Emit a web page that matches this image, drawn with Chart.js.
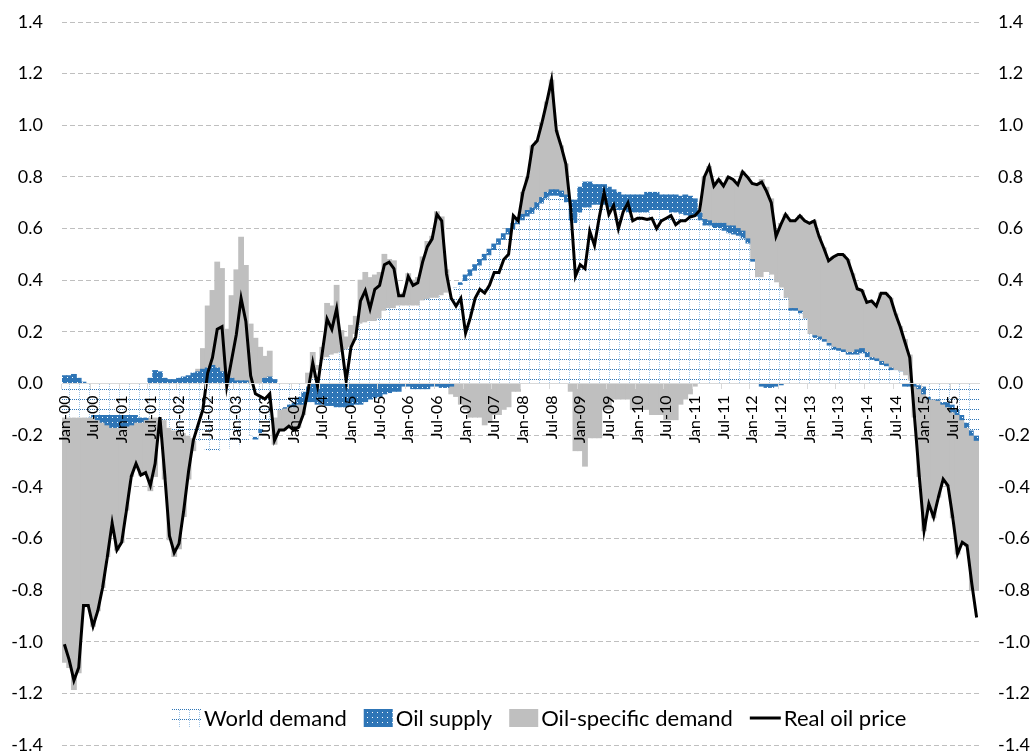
<!DOCTYPE html>
<html>
<head>
<meta charset="utf-8">
<script src="https://cdn.jsdelivr.net/npm/chart.js@4.4.1/dist/chart.umd.min.js"></script>
<style>
  body { margin: 0; background: #fff; }
  canvas { display: block; }
</style>
</head>
<body>
<canvas id="oil-chart" width="1035" height="753"></canvas>
<script>
// month labels Jan-00 .. Dec-15
const monthNames = ['Jan', 'Feb', 'Mar', 'Apr', 'May', 'Jun', 'Jul', 'Aug', 'Sep', 'Oct', 'Nov', 'Dec'];
const years = ['00', '01', '02', '03', '04', '05', '06', '07', '08', '09', '10', '11', '12', '13', '14', '15'];
const categories = [];
years.forEach(y => monthNames.forEach(m => categories.push(m + '-' + y)));

const yTicks = [-1.4, -1.2, -1.0, -0.8, -0.6, -0.4, -0.2, 0.0, 0.2, 0.4, 0.6, 0.8, 1.0, 1.2, 1.4];

const worldDemand = [
  -0.13, -0.13, -0.13, -0.13, -0.13, -0.13, -0.12, -0.12, -0.12, -0.12, -0.12, -0.12,
  -0.12, -0.12, -0.12, -0.12, -0.13, -0.13, -0.13, -0.13, -0.13, -0.14, -0.17, -0.18,
  -0.18, -0.19, -0.20, -0.21, -0.22, -0.235, -0.26, -0.26, -0.26, -0.225, -0.22, -0.25,
  -0.25, -0.235, -0.22, -0.20, -0.205, -0.175, -0.165, -0.165, -0.13, -0.10, -0.09, -0.08,
  -0.07, -0.05, -0.03, -0.01, 0.02, 0.05, 0.09, 0.10, 0.11, 0.115, 0.12, 0.13,
  0.14, 0.19, 0.23, 0.235, 0.24, 0.24, 0.25, 0.28, 0.29, 0.29, 0.30, 0.30,
  0.30, 0.30, 0.30, 0.32, 0.325, 0.33, 0.33, 0.34, 0.35, 0.36, 0.37, 0.38,
  0.395, 0.415, 0.435, 0.455, 0.475, 0.495, 0.515, 0.535, 0.555, 0.575, 0.595, 0.615,
  0.63, 0.645, 0.655, 0.675, 0.695, 0.715, 0.725, 0.725, 0.72, 0.70, 0.63, 0.62,
  0.66, 0.68, 0.68, 0.69, 0.69, 0.69, 0.68, 0.68, 0.67, 0.67, 0.66, 0.66,
  0.66, 0.66, 0.66, 0.67, 0.67, 0.67, 0.67, 0.66, 0.66, 0.655, 0.65, 0.645,
  0.645, 0.63, 0.61, 0.61, 0.60, 0.60, 0.59, 0.58, 0.575, 0.57, 0.56, 0.54,
  0.47, 0.41, 0.41, 0.43, 0.42, 0.39, 0.37, 0.33, 0.28, 0.28, 0.27, 0.25,
  0.19, 0.175, 0.17, 0.16, 0.145, 0.13, 0.125, 0.12, 0.11, 0.11, 0.11, 0.115,
  0.10, 0.09, 0.085, 0.07, 0.065, 0.05, 0.05, 0.045, 0.03, 0.01, 0.0, -0.005,
  -0.01, -0.05, -0.06, -0.06, -0.07, -0.07, -0.08, -0.10, -0.12, -0.15, -0.18, -0.20
];

const oilSupply = [
  0.03, 0.03, 0.035, 0.02, 0.005, 0, -0.01, -0.02, -0.03, -0.04, -0.05, -0.05,
  -0.05, -0.045, -0.04, -0.03, -0.02, -0.01, 0.02, 0.05, 0.045, 0.02, 0.015, 0.015,
  0.02, 0.025, 0.03, 0.04, 0.045, 0.055, 0.06, 0.07, 0.06, 0.045, 0.03, 0.02,
  0.01, 0.01, 0.01, 0, -0.01, -0.015, 0.02, 0.025, 0.015, 0, -0.005, -0.01,
  -0.02, -0.03, -0.05, -0.06, -0.07, -0.08, -0.08, -0.085, -0.085, -0.09, -0.09, -0.09,
  -0.085, -0.08, -0.08, -0.07, -0.06, -0.055, -0.05, -0.04, -0.035, -0.03, -0.03, -0.01,
  -0.01, -0.02, -0.02, -0.02, -0.02, -0.01, -0.01, -0.015, -0.015, -0.01, 0, 0.01,
  0.025, 0.025, 0.025, 0.025, 0.025, 0.025, 0.025, 0.025, 0.025, 0.025, 0.025, 0.025,
  0.025, 0.025, 0.025, 0.025, 0.025, 0.025, 0.025, 0.025, 0.025, 0.03, 0.08, 0.09,
  0.10, 0.10, 0.10, 0.08, 0.08, 0.08, 0.08, 0.07, 0.07, 0.06, 0.07, 0.07,
  0.07, 0.07, 0.08, 0.07, 0.07, 0.06, 0.06, 0.07, 0.07, 0.07, 0.08, 0.08,
  0.07, 0.03, 0.025, 0.02, 0.02, 0.02, 0.03, 0.03, 0.035, 0.03, 0.03, 0.02,
  0.01, 0, -0.01, -0.015, -0.015, -0.01, -0.005, 0, 0.01, 0.01, 0.01, 0,
  0, 0.01, 0.01, 0.01, 0.01, 0.01, 0.01, 0.01, 0.01, 0.01, 0.02, 0.02,
  0.02, 0.01, 0.01, 0.015, 0.01, 0.01, 0, 0, -0.01, -0.01, -0.01, -0.015,
  -0.03, -0.01, 0, -0.005, -0.01, -0.02, -0.03, -0.02, -0.02, -0.02, -0.02, -0.02
];

const oilSpecificDemand = [
  -0.95, -0.97, -1.055, -0.99, -0.735, -0.73, -0.81, -0.74, -0.64, -0.51, -0.37, -0.475,
  -0.445, -0.325, -0.20, -0.16, -0.205, -0.205, -0.285, -0.23, -0.045, -0.23, -0.435, -0.49,
  -0.46, -0.325, -0.17, -0.05, 0.01, 0.08, 0.24, 0.29, 0.41, 0.40, 0.18, 0.32,
  0.43, 0.556, 0.447, 0.23, 0.175, 0.14, 0.085, 0.10, -0.105, -0.08, -0.085, -0.075,
  -0.09, -0.09, -0.04, 0.04, 0.10, 0.02, 0.05, 0.21, 0.19, 0.265, 0.085, 0.05,
  0.085, 0.07, 0.17, 0.195, 0.17, 0.18, 0.18, 0.22, 0.19, 0.185, 0.04, 0.05,
  0.125, 0.10, 0.11, 0.17, 0.225, 0.24, 0.335, 0.305, 0.09, -0.03, -0.05, -0.08,
  -0.10, -0.13, -0.13, -0.13, -0.16, -0.15, -0.12, -0.12, -0.10, -0.09, -0.03, -0.03,
  0.085, 0.13, 0.24, 0.24, 0.29, 0.35, 0.425, 0.23, 0.175, 0.12, -0.03, -0.26,
  -0.26, -0.32, -0.21, -0.21, -0.21, -0.10, -0.10, -0.06, -0.06, -0.06, -0.06, -0.10,
  -0.10, -0.10, -0.10, -0.12, -0.12, -0.12, -0.14, -0.14, -0.14, -0.08, -0.06, -0.04,
  -0.01, 0.01, 0.165, 0.21, 0.145, 0.17, 0.145, 0.19, 0.18, 0.17, 0.23, 0.24,
  0.295, 0.36, 0.38, 0.33, 0.295, 0.19, 0.25, 0.325, 0.34, 0.34, 0.37, 0.38,
  0.43, 0.445, 0.39, 0.355, 0.32, 0.35, 0.365, 0.37, 0.36, 0.305, 0.237, 0.225,
  0.194, 0.22, 0.205, 0.265, 0.275, 0.27, 0.22, 0.175, 0.14, 0.10, -0.12, -0.34,
  -0.53, -0.41, -0.46, -0.375, -0.29, -0.305, -0.41, -0.54, -0.475, -0.46, -0.60, -0.58
];

const realOilPrice = [
  -1.01, -1.07, -1.15, -1.10, -0.86, -0.86, -0.94, -0.88, -0.79, -0.67, -0.54, -0.645,
  -0.615, -0.49, -0.36, -0.31, -0.355, -0.345, -0.395, -0.31, -0.13, -0.35, -0.59, -0.655,
  -0.62, -0.49, -0.34, -0.22, -0.16, -0.10, 0.04, 0.10, 0.21, 0.22, -0.01, 0.09,
  0.19, 0.33, 0.24, 0.03, -0.04, -0.05, -0.06, -0.04, -0.22, -0.18, -0.18, -0.165,
  -0.18, -0.17, -0.12, -0.03, 0.08, -0.01, 0.12, 0.25, 0.21, 0.29, 0.15, 0.01,
  0.14, 0.18, 0.32, 0.36, 0.29, 0.365, 0.38, 0.46, 0.47, 0.445, 0.34, 0.34,
  0.415, 0.38, 0.39, 0.47, 0.53, 0.56, 0.655, 0.63, 0.425, 0.33, 0.30, 0.33,
  0.195, 0.255, 0.33, 0.365, 0.35, 0.38, 0.43, 0.43, 0.48, 0.50, 0.65, 0.63,
  0.74, 0.80, 0.92, 0.94, 1.01, 1.09, 1.175, 0.98, 0.92, 0.85, 0.68, 0.415,
  0.46, 0.445, 0.59, 0.535, 0.645, 0.74, 0.655, 0.69, 0.60, 0.665, 0.70, 0.63,
  0.64, 0.64, 0.635, 0.64, 0.60, 0.63, 0.64, 0.65, 0.615, 0.63, 0.63, 0.645,
  0.65, 0.67, 0.80, 0.84, 0.765, 0.79, 0.765, 0.80, 0.79, 0.77, 0.82, 0.80,
  0.775, 0.77, 0.78, 0.745, 0.70, 0.57, 0.615, 0.655, 0.63, 0.63, 0.65, 0.63,
  0.62, 0.63, 0.57, 0.525, 0.475, 0.49, 0.50, 0.50, 0.48, 0.425, 0.367, 0.36,
  0.314, 0.32, 0.30, 0.35, 0.35, 0.33, 0.27, 0.22, 0.16, 0.10, -0.13, -0.36,
  -0.57, -0.466, -0.518, -0.44, -0.37, -0.395, -0.518, -0.66, -0.615, -0.628, -0.776, -0.906
];

const FONT = 'Lato, "Open Sans", sans-serif';
const BLUE = '#2e75b6';

function makePattern(w, h, paint) {
    const c = document.createElement('canvas');
    c.width = w;
    c.height = h;
    const g = c.getContext('2d');
    paint(g);
    return g.createPattern(c, 'repeat');
}

// white with a dotted blue grid
const demandFill = makePattern(10, 10, g => {
    g.fillStyle = '#ffffff';
    g.fillRect(0, 0, 10, 10);
    g.fillStyle = '#9dc3e6';
    for (let y = 0; y < 10; y += 2) g.fillRect(9, y, 1, 1);
    g.fillStyle = BLUE;
    for (let x = 0; x < 10; x += 2) g.fillRect(x, 9, 1, 1);
});

// blue with small white dots
const supplyFill = makePattern(5, 5, g => {
    g.fillStyle = BLUE;
    g.fillRect(0, 0, 5, 5);
    g.fillStyle = '#ffffff';
    g.fillRect(2, 2, 1, 1);
});

function fmtTick(v) {
    return Math.abs(v) < 1e-9 ? '0.0' : v.toFixed(1);
}

// legend drawn inside the plot, near the bottom
const bottomLegend = {
    id: 'bottomLegend',
    afterDraw(chart) {
        const ctx = chart.ctx;
        const y = 718;
        let x = 172;
        ctx.save();
        ctx.font = '22px ' + FONT;
        ctx.textBaseline = 'middle';
        chart.data.datasets.forEach(ds => {
            if (ds.type === 'line') {
                ctx.strokeStyle = ds.borderColor;
                ctx.lineWidth = 3;
                ctx.beginPath();
                ctx.moveTo(x, y);
                ctx.lineTo(x + 31, y);
                ctx.stroke();
                x += 34;
            } else {
                ctx.fillStyle = ds.backgroundColor;
                ctx.fillRect(x, y - 9, 29, 18);
                x += 32;
            }
            ctx.fillStyle = '#000';
            ctx.fillText(ds.label, x, y + 1);
            x += ctx.measureText(ds.label).width + 17;
        });
        ctx.restore();
    }
};

const yAxisBase = {
    min: -1.4,
    max: 1.4,
    afterBuildTicks: s => { s.ticks = yTicks.map(v => ({ value: v })); },
    ticks: {
        padding: 19,
        callback: fmtTick,
        color: '#000',
        font: { family: FONT, size: 18 }
    }
};

const chart = new Chart(document.getElementById('oil-chart'), {
    type: 'bar',
    data: {
        labels: categories,
        datasets: [
            {
                label: 'World demand',
                data: worldDemand,
                backgroundColor: demandFill,
                stack: 'shocks'
            },
            {
                label: 'Oil supply',
                data: oilSupply,
                backgroundColor: supplyFill,
                stack: 'shocks'
            },
            {
                label: 'Oil-specific demand',
                data: oilSpecificDemand,
                backgroundColor: '#bfbfbf',
                stack: 'shocks'
            },
            {
                type: 'line',
                label: 'Real oil price',
                data: realOilPrice,
                borderColor: '#000',
                borderWidth: 3,
                pointRadius: 0,
                tension: 0,
                stack: 'price',
                order: -1
            }
        ]
    },
    options: {
        responsive: false,
        devicePixelRatio: 1,
        animation: false,
        layout: { padding: { top: 22, bottom: 8, left: 0, right: 0 } },
        datasets: {
            bar: {
                barPercentage: 1,
                categoryPercentage: 1,
                borderWidth: 0,
                inflateAmount: 0.5
            }
        },
        scales: {
            x: {
                position: { y: 0 },
                stacked: true,
                grid: {
                    offset: true,
                    drawOnChartArea: false,
                    tickLength: 5,
                    z: 1,
                    color: c => (c.index % 6 === 0 ? '#d9d9d9' : 'rgba(0,0,0,0)')
                },
                border: { display: true, color: '#d9d9d9', width: 1, z: 1 },
                ticks: {
                    z: 1,
                    autoSkip: false,
                    minRotation: 90,
                    maxRotation: 90,
                    padding: 7,
                    color: '#000',
                    font: { family: FONT, size: 16 },
                    callback: (v, i) => (i % 6 === 0 ? categories[i] : '')
                }
            },
            y: Object.assign({}, yAxisBase, {
                position: 'left',
                stacked: true,
                afterFit: s => { s.width = 62; s.paddingTop = 0; s.paddingBottom = 0; },
                grid: {
                    drawTicks: false,
                    color: c => (Math.abs(c.tick.value) < 1e-9 ? 'rgba(0,0,0,0)' : '#bfbfbf')
                },
                border: { display: false, dash: [5, 3] }
            }),
            y2: Object.assign({}, yAxisBase, {
                position: 'right',
                afterFit: s => { s.width = 56; s.paddingTop = 0; s.paddingBottom = 0; },
                grid: { display: false, drawTicks: false },
                border: { display: false }
            })
        },
        plugins: {
            legend: { display: false },
            tooltip: { enabled: false }
        }
    },
    plugins: [bottomLegend]
});
</script>
</body>
</html>
